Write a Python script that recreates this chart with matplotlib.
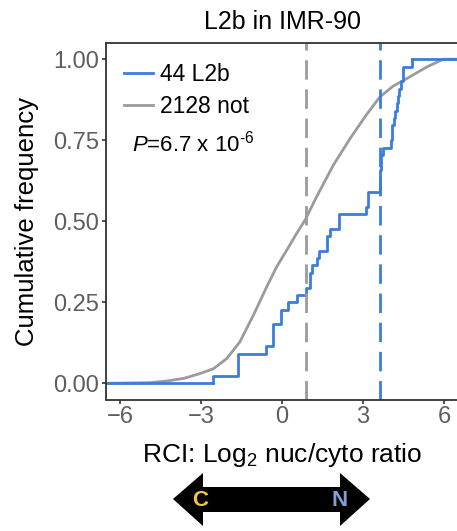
import matplotlib
matplotlib.use("Agg")
import matplotlib.pyplot as plt
from matplotlib.patches import Polygon
from matplotlib.lines import Line2D

plt.rcParams['font.family'] = ['Liberation Sans', 'DejaVu Sans']
plt.rcParams['mathtext.fontset'] = 'custom'
plt.rcParams['mathtext.rm'] = 'Liberation Sans'
plt.rcParams['mathtext.it'] = 'Liberation Sans:italic'

# 44 L2b RCI values (read from the step positions)
l2b_rci = [
    -2.54,
    -1.62, -1.62, -1.62,
    -0.60,
    -0.32, -0.32, -0.32,
    -0.02, -0.02,
    0.22, 0.57, 0.89,
    1.04, 1.04, 1.10, 1.28, 1.37,
    1.65, 1.65, 1.78,
    2.10, 2.10,
    3.10, 3.20, 3.20,
    3.62, 3.62, 3.62, 3.65, 3.68,
    3.73, 4.03, 4.08, 4.08, 4.15, 4.19, 4.25, 4.30, 4.35, 4.40,
    4.47, 4.47, 4.80,
]

# 2128 "not" genes: cumulative curve
not_x = [-6.52, -4.89, -4.27, -3.65, -3.28, -3.04, -2.54, -2.05, -1.56, -1.06,
         -0.57, -0.20, 0.17, 0.54, 0.85, 1.28, 1.90, 2.52, 3.14, 3.63,
         4.12, 4.62, 5.36, 5.98, 6.48]
not_cdf = [0.0, 0.002, 0.007, 0.015, 0.024, 0.030, 0.045, 0.076, 0.128, 0.210,
           0.297, 0.359, 0.410, 0.462, 0.503, 0.575, 0.673, 0.755, 0.830, 0.884,
           0.917, 0.940, 0.976, 1.0, 1.0]

median_not = 0.89
line_l2b = 3.62

BLUE = '#3B7DDD'
GRAY = '#9B9B9B'

fig = plt.figure(figsize=(4.57, 5.31), dpi=100)
W, H = 457, 531
ax = fig.add_axes([106 / W, 1 - 399.5 / H, (458 - 106) / W, (399.5 - 43) / H])

ax.plot(not_x, not_cdf, color=GRAY, lw=2.0, solid_capstyle='butt')
ax.ecdf(l2b_rci, color=BLUE, lw=2.0)
# extend flat tails of the step curve to the panel edges
ax.plot([-6.52, min(l2b_rci)], [0, 0], color=BLUE, lw=2.0)
ax.plot([max(l2b_rci), 6.52], [1, 1], color=BLUE, lw=2.0)

ax.axvline(median_not, color=GRAY, lw=2.0, dashes=(7, 3.5))
ax.axvline(line_l2b, color=BLUE, lw=2.0, dashes=(7, 3.5))

ax.set_xlim(-6.52, 6.52)
ax.set_ylim(-0.05, 1.05)
ax.set_xticks([-6, -3, 0, 3, 6])
ax.set_xticklabels(['\u22126', '\u22123', '0', '3', '6'])
ax.set_yticks([0, 0.25, 0.5, 0.75, 1.0])
ax.set_yticklabels(['0.00', '0.25', '0.50', '0.75', '1.00'])
ax.tick_params(length=3, width=1.2, color='#333333', labelcolor='#5E5E5E',
               labelsize=17, pad=2)
for side in ['left', 'bottom', 'top']:
    ax.spines[side].set_color('#333333')
    ax.spines[side].set_linewidth(1.3)
ax.spines['right'].set_visible(False)

ax.set_title('L2b in IMR-90', fontsize=18, pad=10)
ax.set_ylabel('Cumulative frequency', fontsize=18.5, labelpad=10)
ax.set_xlabel('RCI: Log$_{\\mathregular{2}}$ nuc/cyto ratio', fontsize=19, labelpad=9)

handles = [Line2D([0], [0], color=BLUE, lw=2.0),
           Line2D([0], [0], color=GRAY, lw=2.0)]
ax.legend(handles, ['44 L2b', '2128 not'], loc='upper left',
          bbox_to_anchor=(0.0, 0.996), frameon=False, fontsize=16.5,
          handlelength=1.25, handletextpad=0.3, labelspacing=0.42,
          borderaxespad=0.4)
ax.text(0.075, 0.697, '$\\mathit{P}$=6.7 x 10$^{\\text{-6}}$',
        transform=ax.transAxes, fontsize=16, va='baseline', ha='left')

# nuclear/cytoplasmic direction arrow under the axis
pts = [(173, 499), (203, 473), (203, 487), (340, 487), (340, 473),
       (370, 499), (340, 526), (340, 512), (203, 512), (203, 526)]
arrow = Polygon([(x / W, 1 - y / H) for x, y in pts], closed=True,
                transform=fig.transFigure, facecolor='black', edgecolor='none')
fig.patches.append(arrow)
fig.text(200 / W, 1 - 500 / H, 'C', color='#F2C744', fontsize=16,
         fontweight='bold', ha='center', va='center')
fig.text(340 / W, 1 - 500 / H, 'N', color='#7F9FD6', fontsize=16,
         fontweight='bold', ha='center', va='center')

fig.savefig('out.png', dpi=100)
